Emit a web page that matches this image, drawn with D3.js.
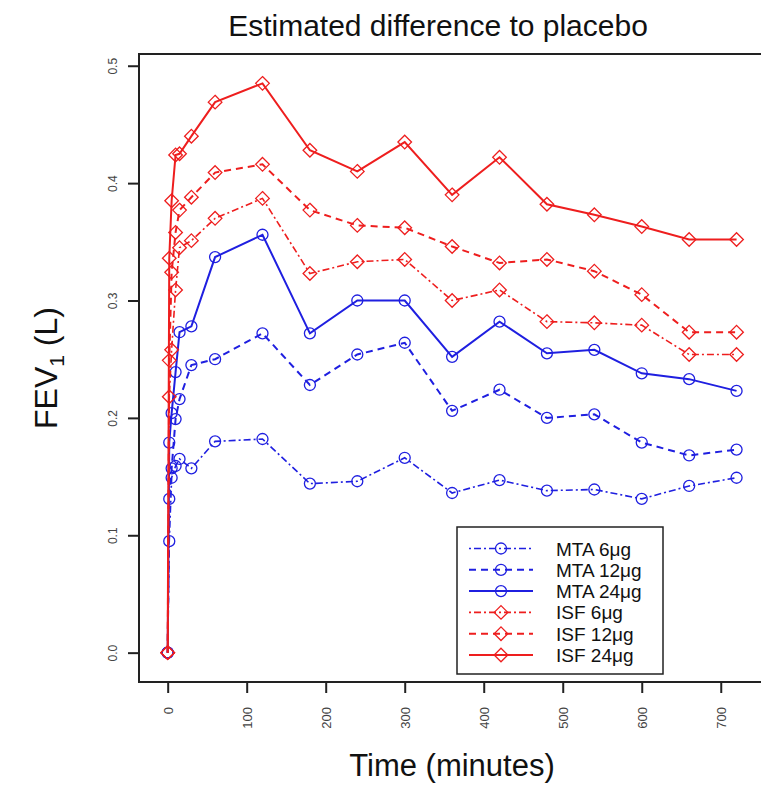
<!DOCTYPE html>
<html>
<head>
<meta charset="utf-8">
<script src="https://cdn.jsdelivr.net/npm/d3@7"></script>
<style>
  body { margin: 0; background: #fff; }
  svg { font-family: "Liberation Sans", Arial, sans-serif; }
</style>
</head>
<body>
<div id="chart"></div>
<script>

// time points (minutes)
var times   = [0, 2, 5, 10, 15, 30, 60, 120, 180, 240, 300, 360, 420, 480, 540, 600, 660, 720];

// estimated difference to placebo, FEV1 (L)
var mta6    = [0, 0.095, 0.149, 0.159, 0.165, 0.157, 0.180, 0.182, 0.144, 0.146, 0.166, 0.136, 0.147, 0.138, 0.139, 0.131, 0.142, 0.149];
var mta12   = [0, 0.131, 0.157, 0.199, 0.216, 0.245, 0.250, 0.272, 0.228, 0.254, 0.264, 0.206, 0.224, 0.200, 0.203, 0.179, 0.168, 0.173];
var mta24   = [0, 0.179, 0.204, 0.239, 0.273, 0.278, 0.337, 0.356, 0.272, 0.300, 0.300, 0.252, 0.282, 0.255, 0.258, 0.238, 0.233, 0.223];
var isf6    = [0, 0.218, 0.258, 0.309, 0.345, 0.351, 0.370, 0.387, 0.323, 0.333, 0.335, 0.300, 0.309, 0.282, 0.281, 0.279, 0.254, 0.254];
var isf12   = [0, 0.249, 0.324, 0.358, 0.377, 0.388, 0.409, 0.416, 0.377, 0.364, 0.362, 0.346, 0.332, 0.335, 0.325, 0.305, 0.273, 0.273];
var isf24   = [0, 0.336, 0.385, 0.424, 0.425, 0.440, 0.469, 0.485, 0.428, 0.410, 0.435, 0.390, 0.422, 0.382, 0.373, 0.363, 0.352, 0.352];

var series_names = ["MTA 6\u03bcg", "MTA 12\u03bcg", "MTA 24\u03bcg", "ISF 6\u03bcg", "ISF 12\u03bcg", "ISF 24\u03bcg"];
var x_ticks  = [0, 100, 200, 300, 400, 500, 600, 700];
var y_ticks  = [0, 0.1, 0.2, 0.3, 0.4, 0.5];

// --------------------------------------------------------
var chart_width  = 761;
var chart_height = 785;

var blue = "#1f1fe0";
var red  = "#ee1e1e";

var styles = [
	{ values: mta6,  color: blue, dash: "2,3,7,3", width: 1.6, marker: "circle" },
	{ values: mta12, color: blue, dash: "7,5",     width: 2,   marker: "circle" },
	{ values: mta24, color: blue, dash: null,      width: 2,   marker: "circle" },
	{ values: isf6,  color: red,  dash: "2,3,7,3", width: 1.6, marker: "diamond" },
	{ values: isf12, color: red,  dash: "7,5",     width: 2,   marker: "diamond" },
	{ values: isf24, color: red,  dash: null,      width: 2,   marker: "diamond" }
];

var svg = d3.select("#chart")
	.append("svg")
	.attr("width", chart_width)
	.attr("height", chart_height);

// scales (box edges correspond to domain ends)
var x_scale = d3.scaleLinear().domain([-36.3, 756]).range([139, 765]);
var y_scale = d3.scaleLinear().domain([-0.025, 0.51]).range([682, 54]);

// title
svg.append("text")
	.attr("x", 438).attr("y", 36)
	.attr("text-anchor", "middle")
	.attr("font-size", 30)
	.attr("fill", "#111")
	.text("Estimated difference to placebo");

// --------------------------------------------------------
// series
var line = d3.line()
	.x(function(d, i) { return x_scale(times[i]); })
	.y(function(d) { return y_scale(d); });

function draw_marker(g, type, color) {
	if (type === "circle") {
		g.append("circle").attr("r", 5.5)
			.attr("fill", "none").attr("stroke", color).attr("stroke-width", 1.3);
	} else {
		g.append("path").attr("d", "M0,-6.8L6.8,0L0,6.8L-6.8,0Z")
			.attr("fill", "none").attr("stroke", color).attr("stroke-width", 1.3);
	}
}

var plot = svg.append("g").attr("id", "plot-area");

styles.forEach(function(s) {
	var g = plot.append("g");
	g.append("path")
		.datum(s.values)
		.attr("d", line)
		.attr("fill", "none")
		.attr("stroke", s.color)
		.attr("stroke-width", s.width)
		.attr("stroke-dasharray", s.dash);
	g.selectAll("g.pt")
		.data(s.values)
		.enter()
		.append("g")
		.attr("class", "pt")
		.attr("transform", function(d, i) {
			return "translate(" + x_scale(times[i]) + "," + y_scale(d) + ")";
		})
		.each(function() { draw_marker(d3.select(this), s.marker, s.color); });
});

// --------------------------------------------------------
// axes
var x_axis = d3.axisBottom(x_scale).tickValues(x_ticks).tickSize(11).tickSizeOuter(0)
	.tickFormat(d3.format("d"));
var gx = svg.append("g")
	.attr("class", "x-axis")
	.attr("transform", "translate(0,682)")
	.call(x_axis);
gx.select(".domain").remove();
gx.selectAll(".tick line").attr("stroke", "#222").attr("stroke-width", 2);
gx.selectAll(".tick text")
	.attr("fill", "#444")
	.attr("font-size", 13)
	.attr("text-anchor", "end")
	.attr("dy", null)
	.attr("transform", "translate(0,25) rotate(-90)")
	.attr("x", 0).attr("y", 4.5);

var y_axis = d3.axisLeft(y_scale).tickValues(y_ticks).tickSize(11).tickSizeOuter(0)
	.tickFormat(d3.format(".1f"));
var gy = svg.append("g")
	.attr("class", "y-axis")
	.attr("transform", "translate(139,0)")
	.call(y_axis);
gy.select(".domain").remove();
gy.selectAll(".tick line").attr("stroke", "#222").attr("stroke-width", 2);
gy.selectAll(".tick text")
	.attr("fill", "#444")
	.attr("font-size", 12)
	.attr("text-anchor", "middle")
	.attr("dy", null)
	.attr("x", 0).attr("y", 0)
	.attr("transform", "translate(-22,0) rotate(-90)");

// box
svg.append("rect")
	.attr("x", 139).attr("y", 54)
	.attr("width", 626).attr("height", 628)
	.attr("fill", "none")
	.attr("stroke", "#222")
	.attr("stroke-width", 2);

// axis titles
svg.append("text")
	.attr("x", 452).attr("y", 776)
	.attr("text-anchor", "middle")
	.attr("font-size", 31)
	.attr("fill", "#111")
	.text("Time (minutes)");

var ylab = svg.append("text")
	.attr("transform", "translate(57,368) rotate(-90)")
	.attr("text-anchor", "middle")
	.attr("font-size", 32)
	.attr("fill", "#111");
ylab.append("tspan").text("FEV");
ylab.append("tspan").attr("font-size", 21).attr("dy", 7).text("1");
ylab.append("tspan").attr("dy", -7).text(" (L)");

// --------------------------------------------------------
// legend
var legend = svg.append("g").attr("class", "legend");
legend.append("rect")
	.attr("x", 457).attr("y", 527)
	.attr("width", 206).attr("height", 147)
	.attr("fill", "#fff")
	.attr("stroke", "#222")
	.attr("stroke-width", 1.5);

styles.forEach(function(s, i) {
	var yy = 548.5 + i * 21.3;
	var row = legend.append("g").attr("transform", "translate(0," + yy + ")");
	row.append("line")
		.attr("x1", 469).attr("x2", 533)
		.attr("stroke", s.color)
		.attr("stroke-width", s.width)
		.attr("stroke-dasharray", s.dash);
	var m = row.append("g").attr("transform", "translate(501,0)");
	draw_marker(m, s.marker, s.color);
	row.append("text")
		.attr("x", 556).attr("y", 7)
		.attr("font-size", 19)
		.attr("fill", "#111")
		.text(series_names[i]);
});

</script>
</body>
</html>
